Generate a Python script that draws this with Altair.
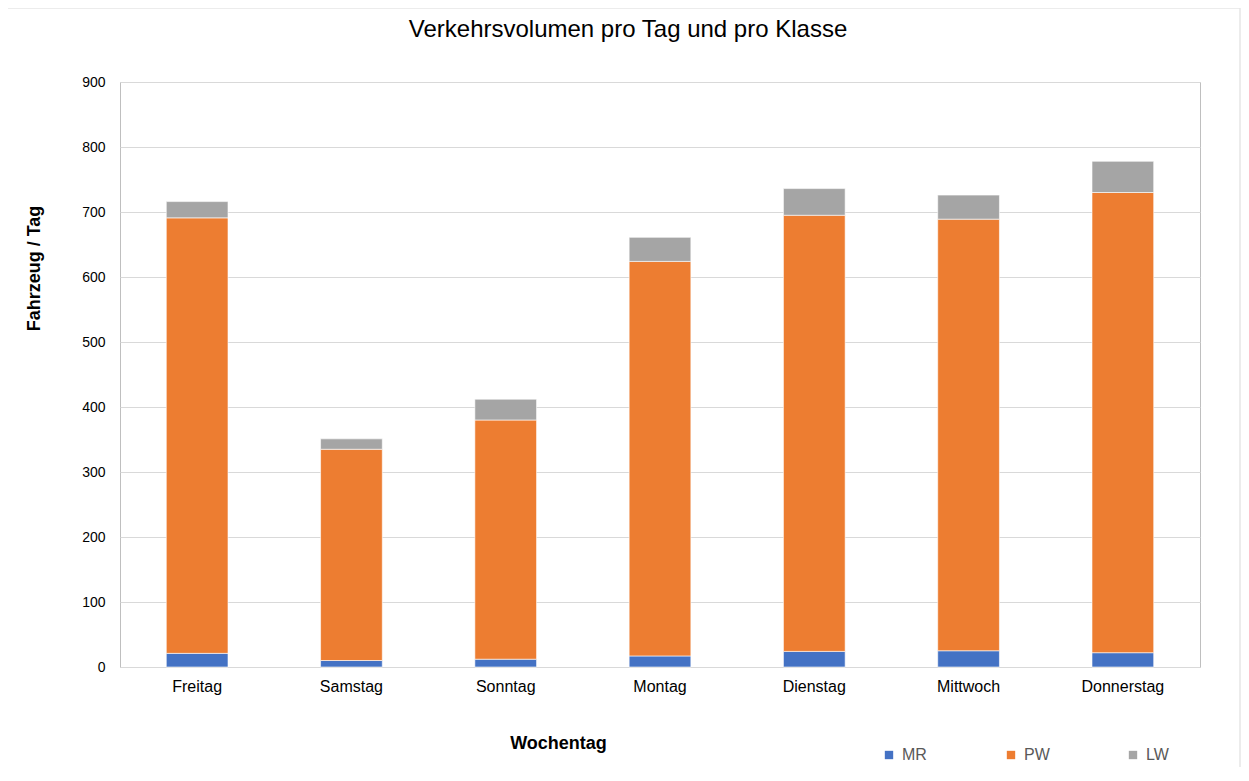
import altair as alt
import pandas as pd

days = ["Freitag", "Samstag", "Sonntag", "Montag", "Dienstag", "Mittwoch", "Donnerstag"]
mr = [21, 10, 12, 17, 24, 25, 22]
pw = [670, 325, 368, 607, 671, 664, 708]
lw = [25, 16, 32, 37, 41, 37, 48]
classes = ["MR", "PW", "LW"]
colors = ["#4472C4", "#ED7D31", "#A5A5A5"]
title_text = "Verkehrsvolumen pro Tag und pro Klasse"

rows = []
for i, d in enumerate(days):
    for k, vals in enumerate([mr, pw, lw]):
        rows.append({"Wochentag": d, "Klasse": classes[k], "Wert": vals[i], "ord": k})
df = pd.DataFrame(rows)

bars = alt.Chart(df).mark_bar(stroke="white", strokeWidth=0.6).encode(
    x=alt.X("Wochentag:N", sort=days,
            scale=alt.Scale(paddingInner=0.6, paddingOuter=0.3),
            axis=alt.Axis(title="Wochentag", labelAngle=0, ticks=False, domain=False,
                          labelFontSize=16, labelPadding=11, labelColor="#000000",
                          titleFontSize=18, titleFontWeight="bold", titleColor="#000000",
                          titleX=438, titleY=76, titleBaseline="middle")),
    y=alt.Y("Wert:Q", stack="zero",
            scale=alt.Scale(domain=[0, 900]),
            axis=alt.Axis(title="Fahrzeug / Tag", values=list(range(0, 901, 100)),
                          ticks=False, domain=False, gridColor="#D9D9D9",
                          labelFontSize=14, labelPadding=15, labelColor="#000000",
                          titleFontSize=18, titleFontWeight="bold", titleColor="#000000",
                          titleX=-86, titleY=186, titleBaseline="middle", titleAngle=-90)),
    color=alt.Color("Klasse:N", sort=classes,
                    scale=alt.Scale(domain=classes, range=colors),
                    legend=alt.Legend(title=None, orient="none", legendX=761, legendY=665,
                                      direction="horizontal", columns=3, gridAlign="all",
                                      symbolType="square", symbolSize=70, symbolStrokeWidth=0,
                                      labelFontSize=16, labelColor="#595959", labelOffset=5,
                                      columnPadding=75)),
    order=alt.Order("ord:Q", sort="ascending"),
)

one = pd.DataFrame({"t": [title_text]})
border = alt.Chart(one).mark_rect(fill="transparent", stroke="#E6E6E6", strokeWidth=1.5).encode(
    x=alt.value(-113), x2=alt.value(1120), y=alt.value(-74), y2=alt.value(720)
)
title = alt.Chart(one).mark_text(fontSize=24, color="#000000", align="center",
                                 baseline="middle").encode(
    text="t:N", x=alt.value(508), y=alt.value(-52)
)

chart = alt.layer(border, bars, title).properties(
    width=1080, height=585,
    padding={"left": 112, "top": 74, "right": 41, "bottom": 100},
    autosize=alt.AutoSizeParams(type="none"),
).configure(font="Liberation Sans").configure_view(stroke="#BFBFBF", strokeWidth=1)

chart.save("out.html", embed_options={"renderer": "svg", "actions": False})
